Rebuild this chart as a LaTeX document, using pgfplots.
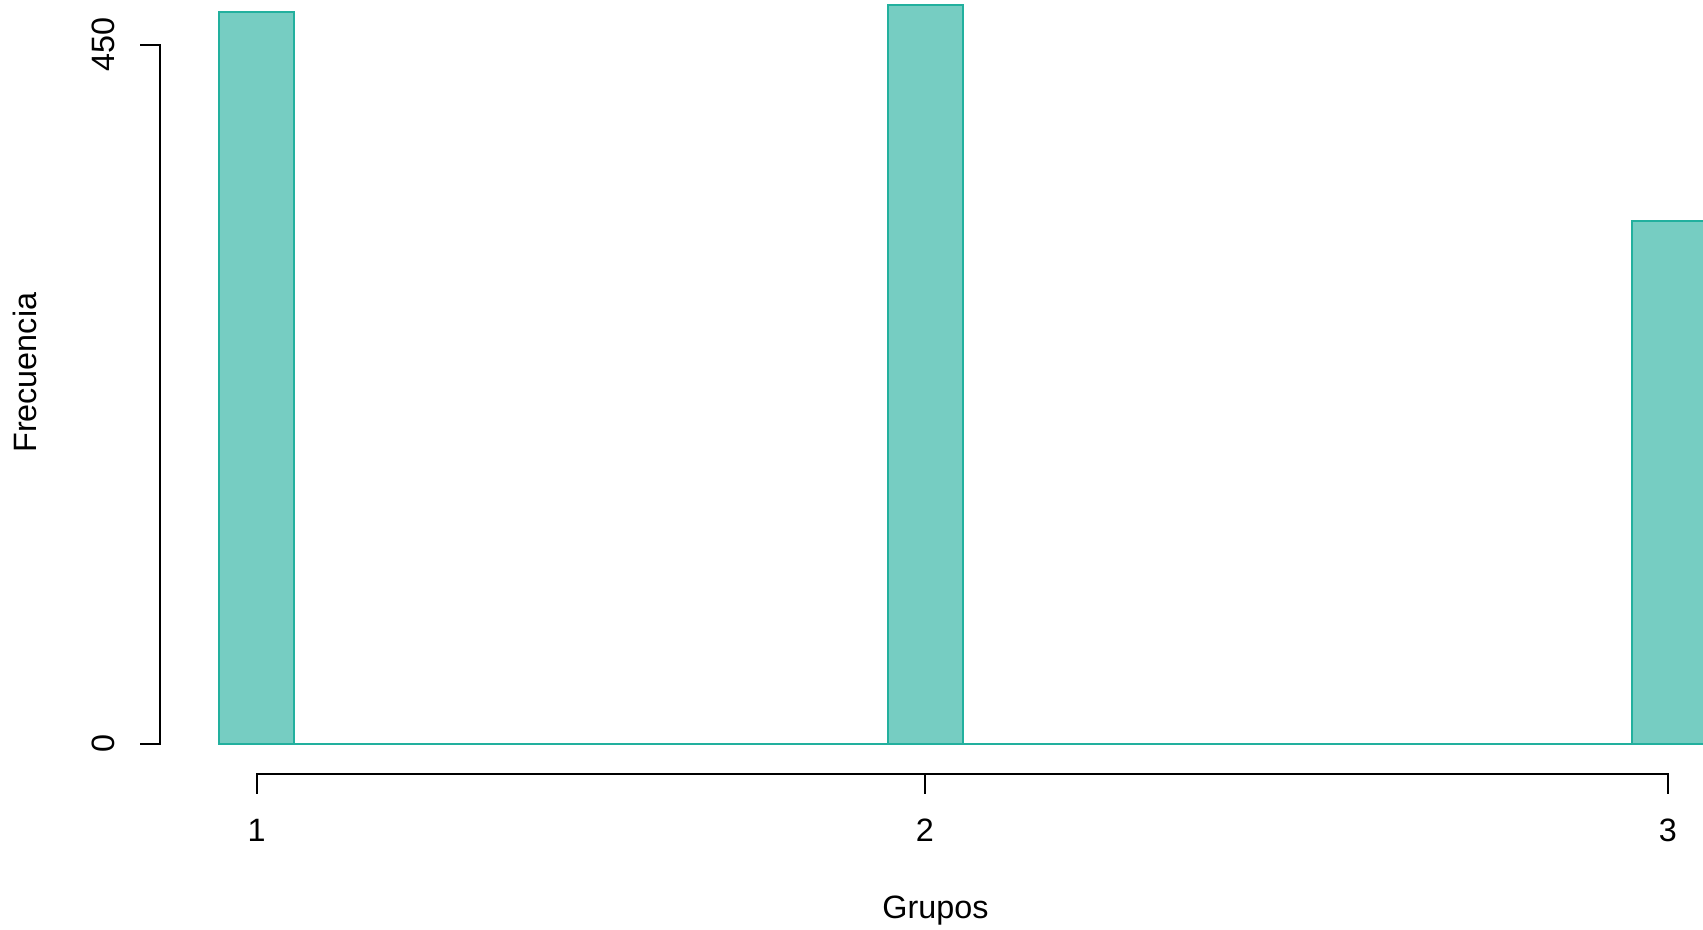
\documentclass[border=0pt]{standalone}
\usepackage{pgfplots}
\pgfplotsset{compat=1.18}
\usepackage{fontspec}
\setmainfont{Liberation Sans}
\definecolor{barfill}{RGB}{118,205,194}
\definecolor{barline}{RGB}{34,176,158}
\begin{document}
\fontsize{9.2pt}{10pt}\selectfont
\begin{tikzpicture}
\begin{axis}[
  at={(0,0)}, anchor=south west,
  scale only axis, width=17.03cm, height=9.30cm,
  xmin=0.70497, xmax=2.99610,
  ymin=-119.5, ymax=478.96,
  hide axis,
]
\addplot[ybar interval, fill=barfill, draw=barline, line width=0.55pt] coordinates {
(1.0,471) (1.1,0) (1.2,0) (1.3,0) (1.4,0) (1.5,0) (1.6,0) (1.7,0) (1.8,0)
(1.9,476) (2.0,0) (2.1,0) (2.2,0) (2.3,0) (2.4,0) (2.5,0) (2.6,0) (2.7,0) (2.8,0)
(2.9,337) (3.0,0)
};
\end{axis}
\begin{scope}[shift={(0cm,9.30cm)}, x=0.01cm, y=-0.01cm, line width=0.55pt, line cap=rect]
  % y axis
  \draw (160,45) -- (160,744.3);
  \draw (160,45) -- (140.7,45);
  \draw (160,744.3) -- (140.7,744.3);
  \node[rotate=90, anchor=base, inner sep=0pt] at (114.3,45) {450};
  \node[rotate=90, anchor=base, inner sep=0pt] at (114.3,744.3) {0};
  \node[rotate=90, anchor=base, inner sep=0pt] at (36.7,373) {Frecuencia};
  % x axis
  \draw (256.7,774) -- (1668.8,774);
  \foreach \t in {256.7,925.5,1668.8} \draw (\t,774) -- (\t,793.3);
  \node[anchor=base, inner sep=0pt] at (256.7,842.3) {1};
  \node[anchor=base, inner sep=0pt] at (925.5,842.3) {2};
  \node[anchor=base, inner sep=0pt] at (1668.8,842.3) {3};
  \node[anchor=base, inner sep=0pt] at (936,919.3) {Grupos};
\end{scope}
\pgfresetboundingbox
\path[use as bounding box] (0,0) rectangle (17.03cm,9.30cm);
\end{tikzpicture}
\end{document}
